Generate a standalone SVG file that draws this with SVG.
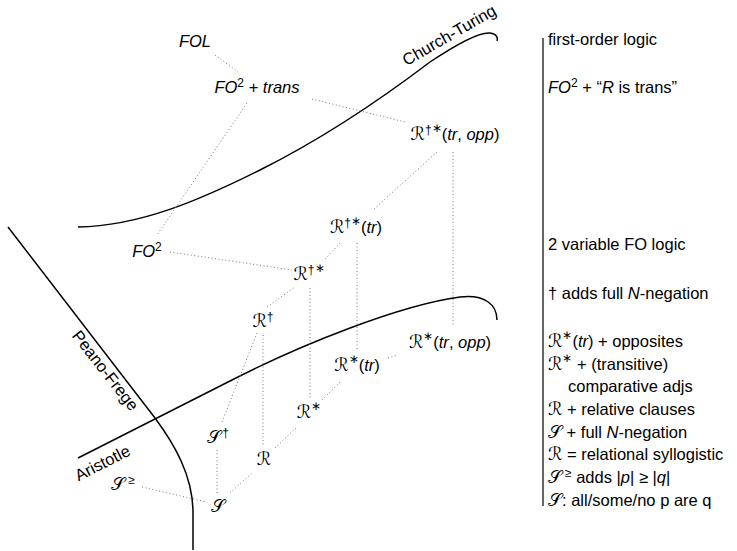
<svg xmlns="http://www.w3.org/2000/svg" width="737" height="551" viewBox="0 0 737 551">
<style>
text{font-family:"Liberation Sans",Arial,sans-serif;font-size:16.5px;fill:#000}
.n{text-anchor:middle}
.i{font-style:italic}
.c{font-family:"DejaVu Sans","Noto Sans",sans-serif;font-size:18px}
.s{font-size:12px}
.dot{stroke:#777;stroke-width:1;stroke-dasharray:1 2.5;fill:none}
.bd{stroke:#000;stroke-width:1.5;fill:none}
</style>
<rect width="737" height="551" fill="#fff"/>
<g id="boundaries">
<path class="bd" d="M78,227 C140,226 200,200 260,170 S380,100 430,62 C460,42 480,32 490,33 C497,34 498,38 497,41"/>
<path class="bd" d="M78,458 L230,381 C300,345 400,305 460,297 C485,294 497,305 497,320"/>
<path class="bd" d="M8,227 L155,418 C175,445 192,475 193,510 L193,550"/>
<text transform="translate(452,40) rotate(-30)" class="n">Church-Turing</text>
<text transform="translate(101,374) rotate(52)" class="n">Peano-Frege</text>
<text transform="translate(105,468) rotate(-27)" class="n">Aristotle</text>
</g>
<g id="connectors">
<line class="dot" x1="215" y1="55" x2="238" y2="72"/>
<line class="dot" x1="312" y1="99" x2="405" y2="122"/>
<line class="dot" x1="247" y1="103" x2="157" y2="235"/>
<line class="dot" x1="437" y1="152" x2="373" y2="210"/>
<line class="dot" x1="453" y1="152" x2="453" y2="327"/>
<line class="dot" x1="170" y1="252" x2="292" y2="270"/>
<line class="dot" x1="325" y1="259" x2="340" y2="243"/>
<line class="dot" x1="357" y1="243" x2="357" y2="350"/>
<line class="dot" x1="310" y1="288" x2="310" y2="400"/>
<line class="dot" x1="267" y1="307" x2="295" y2="287"/>
<line class="dot" x1="263" y1="335" x2="263" y2="447"/>
<line class="dot" x1="257" y1="333" x2="222" y2="422"/>
<line class="dot" x1="388" y1="358" x2="398" y2="355"/>
<line class="dot" x1="322" y1="400" x2="340" y2="382"/>
<line class="dot" x1="275" y1="448" x2="297" y2="427"/>
<line class="dot" x1="142" y1="487" x2="207" y2="502"/>
<line class="dot" x1="217" y1="450" x2="217" y2="493"/>
<line class="dot" x1="230" y1="493" x2="252" y2="473"/>
</g>
<g id="FOL"><text class="n i" x="195" y="47">FOL</text></g>
<g id="FO2trans"><text class="n" x="257" y="93"><tspan class="i">FO</tspan><tspan class="s" dy="-6">2</tspan><tspan dy="6"> + </tspan><tspan class="i">trans</tspan></text></g>
<g id="Rdaggerstar-tr-opp"><text class="n" x="455" y="140"><tspan class="c">ℛ</tspan><tspan class="s" dy="-6">†</tspan><tspan class="s" dy="-2">∗</tspan><tspan dy="8">(</tspan><tspan class="i">tr</tspan>, <tspan class="i">opp</tspan>)</text></g>
<g id="Rdaggerstar-tr"><text class="n" x="356" y="233"><tspan class="c">ℛ</tspan><tspan class="s" dy="-6">†</tspan><tspan class="s" dy="-2">∗</tspan><tspan dy="8">(</tspan><tspan class="i">tr</tspan>)</text></g>
<g id="FO2"><text class="n" x="147" y="257"><tspan class="i">FO</tspan><tspan class="s" dy="-6">2</tspan></text></g>
<g id="Rdaggerstar"><text class="n" x="309" y="280"><tspan class="c">ℛ</tspan><tspan class="s" dy="-6">†</tspan><tspan class="s" dy="-2">∗</tspan></text></g>
<g id="Rdagger"><text class="n" x="263" y="327"><tspan class="c">ℛ</tspan><tspan class="s" dy="-6">†</tspan></text></g>
<g id="Rstar-tr-opp"><text class="n" x="450" y="348"><tspan class="c">ℛ</tspan><tspan class="s" dy="-8">∗</tspan><tspan dy="8">(</tspan><tspan class="i">tr</tspan>, <tspan class="i">opp</tspan>)</text></g>
<g id="Rstar-tr"><text class="n" x="357" y="371"><tspan class="c">ℛ</tspan><tspan class="s" dy="-8">∗</tspan><tspan dy="8">(</tspan><tspan class="i">tr</tspan>)</text></g>
<g id="Rstar"><text class="n" x="309" y="418"><tspan class="c">ℛ</tspan><tspan class="s" dy="-8">∗</tspan></text></g>
<g id="Sdagger"><text class="n" x="218" y="443"><tspan class="c">𝒮</tspan><tspan class="s" dx="1" dy="-6">†</tspan></text></g>
<g id="R"><text class="n c" x="264" y="465">ℛ</text></g>
<g id="Sgeq"><text class="n" x="123" y="490"><tspan class="c">𝒮</tspan><tspan class="s" dx="3" dy="-6">≥</tspan></text></g>
<g id="S"><text class="n c" x="218" y="512">𝒮</text></g>
<g id="legend">
<line x1="543" y1="38" x2="543" y2="506" stroke="#000" stroke-width="1.2"/>
<text x="548" y="45">first-order logic</text>
<text x="548" y="93"><tspan class="i">FO</tspan><tspan class="s" dy="-6">2</tspan><tspan dy="6"> + “</tspan><tspan class="i">R</tspan> is trans”</text>
<text x="548" y="250">2 variable FO logic</text>
<text x="548" y="299">† adds full <tspan class="i">N</tspan>-negation</text>
<text x="548" y="347"><tspan class="c">ℛ</tspan><tspan class="s" dy="-8">∗</tspan><tspan dy="8">(</tspan><tspan class="i">tr</tspan>) + opposites</text>
<text x="548" y="370"><tspan class="c">ℛ</tspan><tspan class="s" dy="-8">∗</tspan><tspan dy="8"> + (transitive)</tspan></text>
<text x="568" y="392">comparative adjs</text>
<text x="548" y="415"><tspan class="c">ℛ</tspan> + relative clauses</text>
<text x="548" y="438"><tspan class="c">𝒮</tspan> + full <tspan class="i">N</tspan>-negation</text>
<text x="548" y="460"><tspan class="c">ℛ</tspan> = relational syllogistic</text>
<text x="548" y="483"><tspan class="c">𝒮</tspan><tspan class="s" dx="3" dy="-6">≥</tspan><tspan dy="6"> adds |</tspan><tspan class="i">p</tspan>| ≥ |<tspan class="i">q</tspan>|</text>
<text x="548" y="506"><tspan class="c">𝒮</tspan>: all/some/no p are q</text>
</g>
</svg>
